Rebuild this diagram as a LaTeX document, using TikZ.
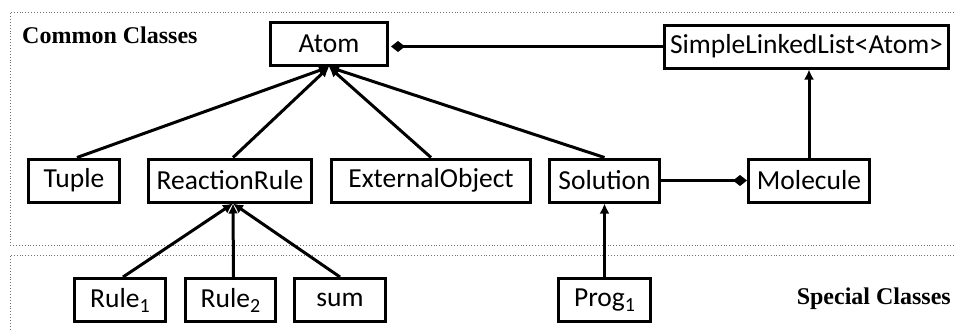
\documentclass[tikz,border=0pt]{standalone}
\usepackage{fontspec}
\setmainfont{Carlito}
\newfontfamily\labelfont{Liberation Serif}
\usetikzlibrary{arrows.meta}
\newcommand{\mysub}[1]{\raisebox{-5pt}{\fontsize{20}{20}\selectfont #1}}
\tikzset{
  cls/.style={draw, line width=3pt, inner sep=0pt, minimum height=43pt, font=\fontsize{27.5}{29}\selectfont, text=black},
  conn/.style={line width=3pt},
  inh/.style={conn, -{Latex[length=10pt,width=10pt]}},
  comp/.style={conn, -{Diamond[length=14pt,width=11pt]}},
  region/.style={draw=black!55, line width=0.9pt, dotted},
  grp/.style={font=\labelfont\bfseries\fontsize{24}{26}\selectfont, inner sep=0pt}
}
\begin{document}
\begin{tikzpicture}[x=1pt,y=-1pt]
\useasboundingbox (0,0) rectangle (954,330);
\draw[region] (960,12) -- (10,12) -- (10,245) -- (960,245);
\draw[region] (960,255) -- (10,255) -- (10,335);
\node[grp, anchor=base west] (common) at (22,43) {Common Classes};
\node[grp, anchor=base east] (special) at (951,304) {Special Classes};

\node[cls, minimum width=117pt] (atom) at (329,44) {Atom};
\node[cls, minimum width=284pt] (sll) at (806.5,46.5) {SimpleLinkedList<Atom>};
\node[cls, minimum width=91pt] (tuple) at (74,180.5) {Tuple};
\node[cls, minimum width=163pt] (rr) at (230,180.5) {ReactionRule};
\node[cls, minimum width=199pt] (eo) at (431,180.5) {ExternalObject};
\node[cls, minimum width=110pt] (sol) at (604.5,180.5) {Solution};
\node[cls, minimum width=121pt] (mol) at (809,180.5) {Molecule};
\node[cls, minimum width=91pt] (r1) at (120,300) {Rule\mysub{1}};
\node[cls, minimum width=90pt] (r2) at (230.5,300) {Rule\mysub{2}};
\node[cls, minimum width=91pt] (sum) at (340,300) {sum};
\node[cls, minimum width=92pt] (prog) at (604.5,300) {Prog\mysub{1}};

\draw[inh] ([xshift=3pt]tuple.north) -- (atom.south);
\draw[inh] ([xshift=3pt]rr.north) -- (atom.south);
\draw[inh] (eo.north) -- (atom.south);
\draw[inh] (sol.north) -- (atom.south);
\draw[inh] ([xshift=3pt]r1.north) -- ([xshift=3pt]rr.south);
\draw[inh] ([xshift=3pt]r2.north) -- ([xshift=3pt]rr.south);
\draw[inh] (sum.north) -- ([xshift=3pt]rr.south);
\draw[inh] (prog.north) -- (sol.south);
\draw[inh] (mol.north) -- (mol.north |- sll.south);
\draw[comp] (sll.west) -- ([xshift=2pt]sll.west -| atom.east);
\draw[comp] (sol.east) -- (mol.west);
\end{tikzpicture}
\end{document}
